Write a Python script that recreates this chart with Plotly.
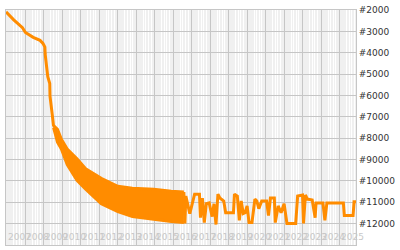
import plotly.graph_objects as go

# ---- data ----
# early single line (rank, lower is better, axis reversed)
dates1 = ["2006-12-13", "2007-05-15", "2007-11-03", "2008-01-01", "2008-06-03",
          "2008-10-16", "2008-12-13", "2009-01-20", "2009-01-25", "2009-02-28",
          "2009-03-18", "2009-04-26", "2009-05-01", "2009-06-03", "2009-06-21",
          "2009-07-11"]
ranks1 = [2090, 2460, 2825, 3050, 3280, 3420, 3560, 3740, 4060, 4660,
          5120, 5440, 6030, 6670, 7270, 7450]

# dense oscillation band (envelope)
band_dates = ["2009-07-11", "2009-09-26", "2009-12-12", "2010-04-06", "2010-10-16",
              "2011-04-06", "2012-02-08", "2013-01-01", "2013-10-16", "2014-12-12",
              "2015-11-23", "2016-07-30"]
band_top = [7410, 7590, 8050, 8510, 8970, 9430, 9880, 10250, 10340, 10390, 10480, 10520]
band_bottom = [7500, 8190, 8510, 9240, 9970, 10390, 11070, 11440, 11670, 11810, 11900, 11950]

# later sparse line
dates3 = ["2016-07-30", "2016-08-19", "2016-09-07", "2016-10-16", "2016-11-24",
          "2017-01-01", "2017-02-27", "2017-06-03", "2017-06-22", "2017-07-31",
          "2017-09-07", "2017-10-16", "2017-12-12", "2018-02-08", "2018-03-18",
          "2018-04-26", "2018-06-03", "2018-07-11", "2018-09-26", "2018-11-03",
          "2019-04-06", "2019-04-26", "2019-06-22", "2019-07-31", "2019-09-07",
          "2019-10-16", "2019-11-23", "2020-01-01", "2020-02-08", "2020-04-06",
          "2020-06-03", "2020-07-11", "2020-08-19", "2020-10-16", "2021-01-20",
          "2021-02-27", "2021-04-06", "2021-06-22", "2021-07-11", "2021-09-07",
          "2021-11-03", "2022-01-01", "2022-02-08", "2022-02-27", "2022-08-19",
          "2022-09-26", "2023-01-01", "2023-01-20", "2023-02-27", "2023-04-06",
          "2023-07-11", "2023-09-07", "2023-09-26", "2024-02-08", "2024-03-18",
          "2024-04-26", "2025-03-18", "2025-04-06", "2025-09-26", "2025-10-16",
          "2025-11-23"]
ranks3 = [10520, 11990, 10710, 11170, 11530,
          11170, 10620, 10620, 11720, 10800,
          11950, 11070, 11030, 11670, 11070,
          12040, 10620, 10800, 10940, 11490,
          11490, 10620, 10710, 11850, 10940,
          11530, 11490, 11170, 11950, 11950,
          10850, 10940, 11300, 10940, 10940,
          11620, 10800, 10800, 11950, 11170,
          11490, 11070, 11720, 11990, 11990,
          10710, 10660, 11990, 10660, 10850,
          10890, 11720, 11030, 11030, 11850,
          11030, 11030, 11620, 11620, 10980,
          10980]

years = list(range(2007, 2026))
rank_ticks = list(range(2000, 13001, 1000))
rank_labels = ["#" + str(v) for v in rank_ticks]

# ---- styling ----
ORANGE = "#ff8c00"
GRID = "#c6c6c6"
FONT = "DejaVu Sans"
minor_offsets = ["-05-20", "-07-10", "-08-30", "-10-20"]
minor_vals = [f"{y}{m}" for y in range(2006, 2026) for m in minor_offsets]

fig = go.Figure()
fig.add_trace(go.Scatter(x=dates1, y=ranks1, mode="lines",
                         line=dict(color=ORANGE, width=3), hoverinfo="skip"))
fig.add_trace(go.Scatter(x=band_dates, y=band_top, mode="lines",
                         line=dict(color=ORANGE, width=3), hoverinfo="skip"))
fig.add_trace(go.Scatter(x=band_dates, y=band_bottom, mode="lines", fill="tonexty",
                         fillcolor=ORANGE, line=dict(color=ORANGE, width=3),
                         hoverinfo="skip"))
fig.add_trace(go.Scatter(x=dates3, y=ranks3, mode="lines",
                         line=dict(color=ORANGE, width=3), hoverinfo="skip"))

for yr in years:
    fig.add_annotation(x=f"{yr}-01-01", xref="x", y=0, yref="paper",
                       xanchor="left", yanchor="bottom", yshift=1, xshift=-1,
                       text=str(yr), showarrow=False,
                       font=dict(family=FONT, size=9, color="#c8c8c8"))

fig.update_layout(
    width=400, height=250,
    margin=dict(l=5, r=35, t=5, b=5),
    paper_bgcolor="white", plot_bgcolor="#f0f0f0",
    showlegend=False,
    font=dict(family=FONT, size=9, color="#333333"),
)
fig.update_xaxes(
    type="date", range=["2006-12-13", "2025-11-23"],
    tickmode="array", tickvals=[f"{y}-01-01" for y in years],
    showticklabels=False, ticks="",
    showgrid=True, gridcolor=GRID, gridwidth=1,
    minor=dict(tickmode="array", tickvals=minor_vals, showgrid=True,
               gridcolor="white", gridwidth=1, ticks=""),
    showline=True, linecolor=GRID, linewidth=1, mirror=True,
    zeroline=False,
)
fig.update_yaxes(
    range=[13000, 2000], side="right",
    tickmode="array", tickvals=rank_ticks, ticktext=rank_labels,
    ticks="", showgrid=True, gridcolor=GRID, gridwidth=1,
    showline=True, linecolor=GRID, linewidth=1, mirror=True,
    zeroline=False,
    tickfont=dict(family=FONT, size=9, color="#333333"),
)

fig.write_html("out.html")
